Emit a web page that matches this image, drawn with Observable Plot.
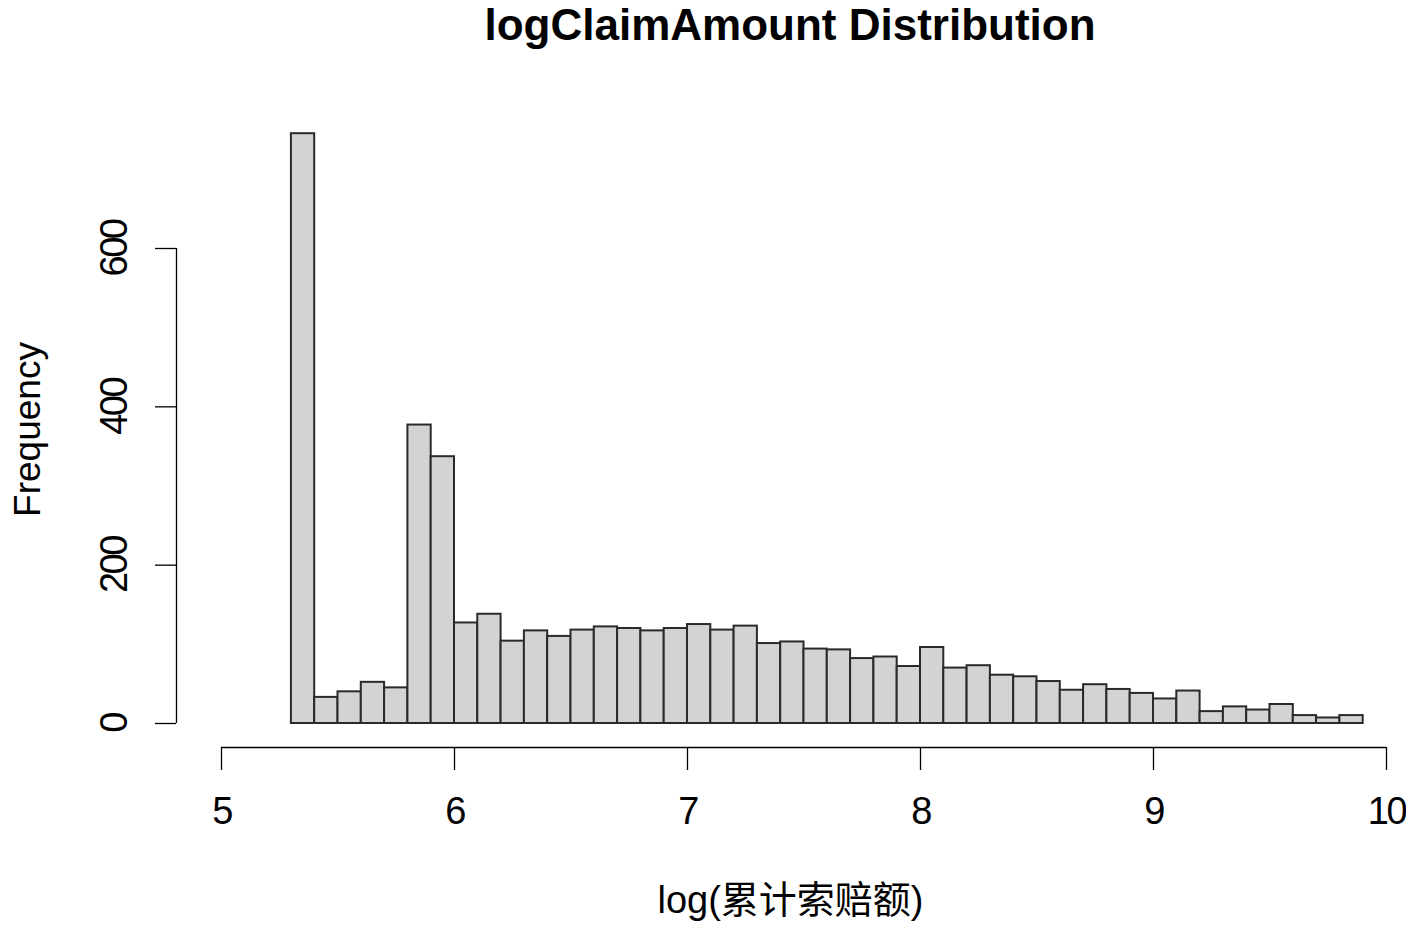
<!DOCTYPE html>
<html>
<head>
<meta charset="utf-8">
<script src="https://cdn.jsdelivr.net/npm/d3@7"></script>
<script src="https://cdn.jsdelivr.net/npm/@observablehq/plot@0.6"></script>
<style>
  html, body { margin: 0; padding: 0; background: #fff; }
  #title {
    width: 1406px; height: 50px; line-height: 50px;
    font: bold 44px "Liberation Sans", Arial, sans-serif;
    text-align: center; box-sizing: border-box; padding-left: 174px;
    color: #000; white-space: nowrap;
  }
  g[aria-label="x-axis tick label"] text,
  g[aria-label="y-axis tick label"] text { letter-spacing: -2.5px; }
</style>
</head>
<body>
<div id="title"></div>
<div id="chart"></div>
<script>
const titleText = "logClaimAmount Distribution";
const xLabel = "log(累计索赔额)";
const yLabel = "Frequency";

const binStart = [5.3, 5.4, 5.5, 5.6, 5.7, 5.8, 5.9, 6.0, 6.1, 6.2, 6.3, 6.4, 6.5, 6.6, 6.7, 6.8, 6.9,
  7.0, 7.1, 7.2, 7.3, 7.4, 7.5, 7.6, 7.7, 7.8, 7.9, 8.0, 8.1, 8.2, 8.3, 8.4, 8.5, 8.6, 8.7, 8.8, 8.9,
  9.0, 9.1, 9.2, 9.3, 9.4, 9.5, 9.6, 9.7, 9.8];
const binEnd = [5.4, 5.5, 5.6, 5.7, 5.8, 5.9, 6.0, 6.1, 6.2, 6.3, 6.4, 6.5, 6.6, 6.7, 6.8, 6.9, 7.0,
  7.1, 7.2, 7.3, 7.4, 7.5, 7.6, 7.7, 7.8, 7.9, 8.0, 8.1, 8.2, 8.3, 8.4, 8.5, 8.6, 8.7, 8.8, 8.9, 9.0,
  9.1, 9.2, 9.3, 9.4, 9.5, 9.6, 9.7, 9.8, 9.9];
const counts = [745, 33, 40, 52, 45, 377, 337, 127, 138, 104, 117, 110, 118, 122, 120, 117, 120,
  125, 118, 123, 101, 103, 94, 93, 82, 84, 72, 96, 70, 73, 61, 59, 53, 42, 49, 43, 38,
  31, 41, 15, 21, 17, 24, 10, 7, 10];
const xTicks = [5, 6, 7, 8, 9, 10];
const yTicks = [0, 200, 400, 600];

const bins = binStart.map((s, i) => ({x1: s, x2: binEnd[i], count: counts[i]}));

document.getElementById("title").textContent = titleText;

const font = '"Liberation Sans", Arial, "Noto Sans CJK SC", sans-serif';

const chart = Plot.plot({
  width: 1406,
  height: 875,
  marginLeft: 176,
  marginRight: 20,
  marginTop: 40,
  marginBottom: 178,
  style: {fontFamily: font, fontSize: "37px", color: "#000", background: "#fff"},
  x: {domain: [5, 10], range: [221, 1386]},
  y: {domain: [0, 800], range: [673, 39.67]},
  marks: [
    Plot.rectY(bins, {x1: "x1", x2: "x2", y: "count", fill: "#d3d3d3", stroke: "#2a2a2a", strokeWidth: 2}),
    Plot.ruleY([0], {x1: 5, x2: 10, dy: 24, stroke: "#000", strokeWidth: 1.3}),
    Plot.ruleX([5], {y1: 0, y2: 600, dx: -45, stroke: "#000", strokeWidth: 1.3}),
    Plot.axisX({ticks: xTicks, tickSize: 23, tickPadding: 27, fontSize: 38, stroke: "#000", strokeWidth: 1.3, tickFormat: d => String(d), label: null}),
    Plot.axisY({ticks: yTicks, tickSize: 21, tickPadding: 29, tickRotate: -90, fontSize: 38, stroke: "#000", strokeWidth: 1.3, tickFormat: d => String(d), label: null}),
    Plot.text([xLabel], {frameAnchor: "bottom", dx: 9, dy: 165, lineAnchor: "bottom", fontSize: 38, fill: "#000"}),
    Plot.text([yLabel], {frameAnchor: "left", dx: -137, dy: 10.5, rotate: -90, lineAnchor: "bottom", textAnchor: "middle", fontSize: 37, fill: "#000"})
  ]
});
document.getElementById("chart").appendChild(chart);
</script>
</body>
</html>
